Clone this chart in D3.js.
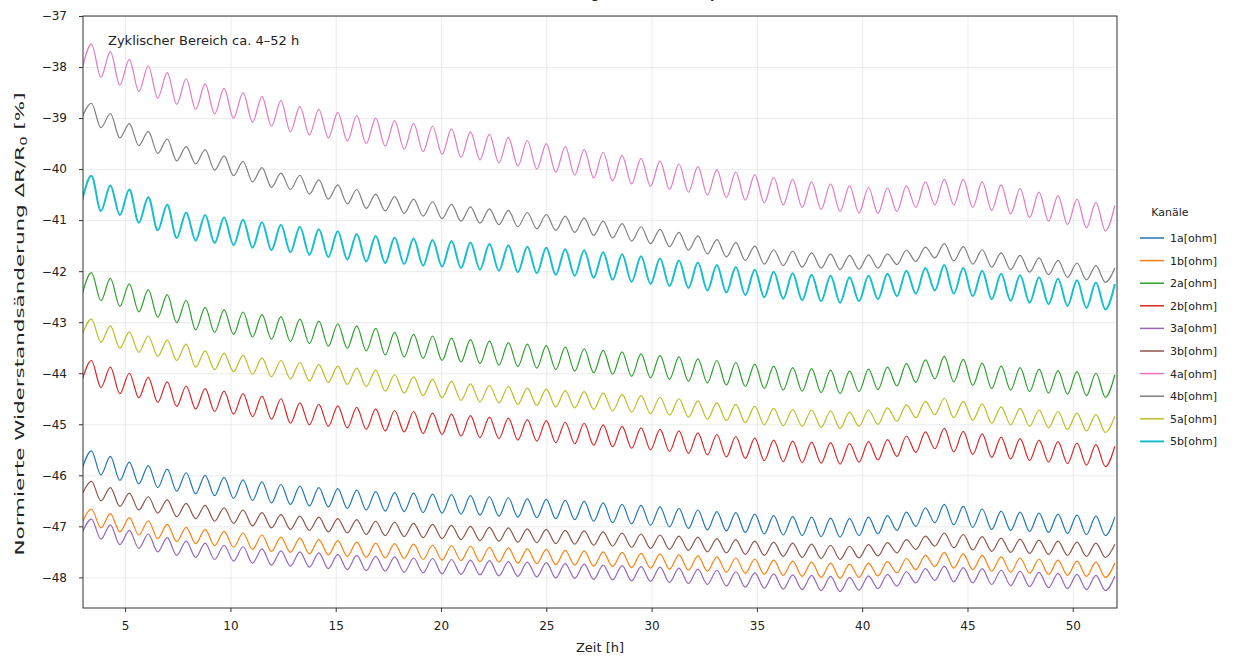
<!DOCTYPE html>
<html>
<head>
<meta charset="utf-8">
<script src="https://cdn.jsdelivr.net/npm/d3@7"></script>
<style>
  body { margin: 0; background: #fff; }
  text { font-family: "DejaVu Sans", sans-serif; fill: #222; }
  .grid line { stroke: #e6e6e6; stroke-width: 0.8; }
  .grid path { display: none; }
</style>
</head>
<body>
<div id="chart"></div>
<script>
// channel names + colours (matplotlib tab10 order)
var channels = ["1a[ohm]", "1b[ohm]", "2a[ohm]", "2b[ohm]", "3a[ohm]", "3b[ohm]", "4a[ohm]", "4b[ohm]", "5a[ohm]", "5b[ohm]"];
var colors = ["#1f77b4", "#ff7f0e", "#2ca02c", "#d62728", "#9467bd", "#8c564b", "#e377c2", "#7f7f7f", "#bcbd22", "#17becf"];

// times of the cycle maxima and minima [h]
var peakTimes = [3.4,4.3,5.2,6.1,7.0,7.9,8.8,9.7,10.6,11.5,12.4,13.3,14.2,15.1,16.0,16.9,17.8,18.7,19.6,20.5,21.4,22.3,23.2,24.1,25.0,25.9,26.8,27.7,28.6,29.5,30.4,31.3,32.2,33.1,34.0,34.9,35.8,36.7,37.6,38.5,39.4,40.3,41.2,42.1,43.0,43.9,44.8,45.7,46.6,47.5,48.4,49.3,50.2,51.1,52.0];
var troughTimes = [2.95,3.85,4.75,5.65,6.55,7.45,8.35,9.25,10.15,11.05,11.95,12.85,13.75,14.65,15.55,16.45,17.35,18.25,19.15,20.05,20.95,21.85,22.75,23.65,24.55,25.45,26.35,27.25,28.15,29.05,29.95,30.85,31.75,32.65,33.55,34.45,35.35,36.25,37.15,38.05,38.95,39.85,40.75,41.65,42.55,43.45,44.35,45.25,46.15,47.05,47.95,48.85,49.75,50.65,51.55];

// cycle mid level per channel [%] (one value per cycle)
var mid1a = [-45.70,-45.81,-45.92,-45.99,-46.06,-46.13,-46.18,-46.22,-46.27,-46.31,-46.36,-46.39,-46.42,-46.44,-46.47,-46.50,-46.52,-46.53,-46.55,-46.56,-46.58,-46.60,-46.62,-46.64,-46.65,-46.67,-46.69,-46.72,-46.75,-46.77,-46.80,-46.83,-46.86,-46.89,-46.91,-46.94,-46.97,-46.99,-47.00,-47.02,-47.03,-47.00,-46.97,-46.90,-46.82,-46.75,-46.79,-46.84,-46.88,-46.90,-46.92,-46.94,-46.96,-46.98,-47.00];
var mid1b = [-46.80,-46.89,-46.97,-47.03,-47.10,-47.16,-47.20,-47.24,-47.27,-47.31,-47.35,-47.37,-47.40,-47.42,-47.45,-47.47,-47.48,-47.49,-47.51,-47.52,-47.53,-47.55,-47.56,-47.58,-47.59,-47.61,-47.62,-47.64,-47.65,-47.67,-47.68,-47.70,-47.72,-47.74,-47.76,-47.78,-47.80,-47.82,-47.84,-47.86,-47.88,-47.86,-47.83,-47.77,-47.71,-47.65,-47.68,-47.71,-47.74,-47.76,-47.78,-47.80,-47.82,-47.84,-47.86];
var mid2a = [-42.25,-42.36,-42.47,-42.58,-42.68,-42.79,-42.93,-42.98,-43.02,-43.07,-43.11,-43.16,-43.20,-43.25,-43.29,-43.34,-43.42,-43.46,-43.49,-43.53,-43.56,-43.59,-43.62,-43.65,-43.68,-43.71,-43.74,-43.77,-43.80,-43.84,-43.87,-43.90,-43.94,-43.97,-44.01,-44.04,-44.08,-44.11,-44.13,-44.16,-44.18,-44.14,-44.10,-44.03,-43.96,-43.89,-43.95,-44.02,-44.08,-44.11,-44.14,-44.17,-44.19,-44.22,-44.25];
var mid2b = [-43.95,-44.08,-44.20,-44.28,-44.37,-44.45,-44.50,-44.55,-44.60,-44.65,-44.70,-44.78,-44.81,-44.84,-44.87,-44.90,-44.93,-44.95,-44.98,-45.00,-45.03,-45.06,-45.08,-45.11,-45.13,-45.16,-45.18,-45.21,-45.24,-45.27,-45.30,-45.33,-45.37,-45.40,-45.44,-45.47,-45.51,-45.53,-45.55,-45.56,-45.58,-45.54,-45.50,-45.43,-45.35,-45.28,-45.34,-45.39,-45.45,-45.48,-45.51,-45.54,-45.57,-45.60,-45.63];
var mid3a = [-47.00,-47.11,-47.22,-47.29,-47.36,-47.43,-47.47,-47.51,-47.54,-47.58,-47.62,-47.64,-47.66,-47.69,-47.71,-47.73,-47.74,-47.76,-47.77,-47.79,-47.80,-47.81,-47.83,-47.84,-47.85,-47.87,-47.88,-47.90,-47.91,-47.93,-47.94,-47.96,-47.98,-48.00,-48.03,-48.05,-48.07,-48.09,-48.10,-48.12,-48.14,-48.11,-48.08,-48.03,-47.97,-47.92,-47.95,-47.97,-48.00,-48.02,-48.04,-48.06,-48.08,-48.10,-48.12];
var mid3b = [-46.25,-46.37,-46.48,-46.55,-46.61,-46.68,-46.72,-46.77,-46.81,-46.86,-46.90,-46.93,-46.95,-46.98,-47.00,-47.03,-47.05,-47.07,-47.09,-47.11,-47.13,-47.15,-47.16,-47.18,-47.19,-47.21,-47.22,-47.24,-47.26,-47.28,-47.30,-47.32,-47.34,-47.37,-47.39,-47.42,-47.44,-47.46,-47.48,-47.50,-47.52,-47.49,-47.45,-47.39,-47.32,-47.26,-47.29,-47.33,-47.36,-47.38,-47.40,-47.42,-47.44,-47.46,-47.48];
var mid4a = [-37.80,-37.95,-38.10,-38.23,-38.36,-38.48,-38.58,-38.67,-38.75,-38.83,-38.91,-39.02,-39.08,-39.14,-39.20,-39.25,-39.30,-39.36,-39.41,-39.46,-39.52,-39.57,-39.63,-39.69,-39.75,-39.81,-39.87,-39.92,-39.98,-40.04,-40.09,-40.15,-40.20,-40.26,-40.31,-40.36,-40.41,-40.45,-40.50,-40.54,-40.58,-40.61,-40.62,-40.58,-40.50,-40.45,-40.45,-40.50,-40.56,-40.63,-40.70,-40.77,-40.84,-40.90,-40.96];
var mid4b = [-38.85,-39.05,-39.25,-39.40,-39.55,-39.70,-39.76,-39.88,-39.99,-40.11,-40.22,-40.26,-40.35,-40.45,-40.54,-40.63,-40.68,-40.73,-40.78,-40.83,-40.88,-40.92,-40.95,-40.99,-41.03,-41.06,-41.10,-41.16,-41.21,-41.27,-41.32,-41.38,-41.45,-41.52,-41.58,-41.65,-41.72,-41.75,-41.78,-41.80,-41.83,-41.82,-41.80,-41.73,-41.67,-41.60,-41.66,-41.72,-41.78,-41.83,-41.88,-41.93,-41.98,-42.03,-42.08];
var mid5a = [-43.10,-43.23,-43.35,-43.43,-43.51,-43.59,-43.72,-43.77,-43.81,-43.86,-43.91,-43.95,-43.99,-44.02,-44.06,-44.10,-44.19,-44.23,-44.28,-44.32,-44.37,-44.40,-44.42,-44.45,-44.47,-44.50,-44.52,-44.55,-44.58,-44.60,-44.63,-44.66,-44.70,-44.74,-44.77,-44.81,-44.85,-44.87,-44.88,-44.90,-44.92,-44.88,-44.84,-44.78,-44.71,-44.65,-44.71,-44.76,-44.82,-44.85,-44.88,-44.91,-44.94,-44.97,-45.00];
var mid5b = [-40.38,-40.57,-40.65,-40.80,-40.95,-41.10,-41.15,-41.20,-41.24,-41.29,-41.34,-41.38,-41.43,-41.47,-41.52,-41.56,-41.59,-41.61,-41.64,-41.66,-41.69,-41.72,-41.74,-41.77,-41.79,-41.82,-41.84,-41.88,-41.92,-41.96,-42.00,-42.04,-42.08,-42.13,-42.17,-42.22,-42.26,-42.29,-42.32,-42.34,-42.37,-42.34,-42.30,-42.24,-42.19,-42.13,-42.19,-42.24,-42.30,-42.33,-42.37,-42.40,-42.43,-42.47,-42.50];

// half swing of the cycle per channel [%]
var swing = [0.18, 0.14, 0.22, 0.20, 0.14, 0.13, 0.25, 0.14, 0.16, 0.25];

var mids = [mid1a, mid1b, mid2a, mid2b, mid3a, mid3b, mid4a, mid4b, mid5a, mid5b];

var yTicks = [-37, -38, -39, -40, -41, -42, -43, -44, -45, -46, -47, -48];
var xTicks = [5, 10, 15, 20, 25, 30, 35, 40, 45, 50];

var svgWidth = 1259;
var svgHeight = 659;
var margin = { top: 16, right: 142, bottom: 51, left: 83 };
var width = svgWidth - margin.left - margin.right;
var height = svgHeight - margin.top - margin.bottom;

var svg = d3.select("#chart").append("svg")
  .attr("width", svgWidth)
  .attr("height", svgHeight);

// title sits almost fully above the visible area, as in the source
svg.append("text")
  .attr("x", margin.left + width / 2)
  .attr("y", -2)
  .attr("text-anchor", "middle")
  .attr("font-size", "14px")
  .text("Normierte Widerstandsänderung aller Kanäle – zyklischer Bereich");

var chartGroup = svg.append("g")
  .attr("transform", `translate(${margin.left}, ${margin.top})`);

var x = d3.scaleLinear().domain([3.0, 52.1]).range([0, width]);
var y = d3.scaleLinear().domain([-48.6, -37]).range([height, 0]);

var fmt = d => String(d).replace("-", "\u2212");

// grid
chartGroup.append("g").attr("class", "grid")
  .attr("transform", `translate(0, ${height})`)
  .call(d3.axisBottom(x).tickValues(xTicks).tickSize(-height).tickFormat(""));
chartGroup.append("g").attr("class", "grid")
  .call(d3.axisLeft(y).tickValues(yTicks).tickSize(-width).tickFormat(""));

chartGroup.append("clipPath").attr("id", "clip")
  .append("rect").attr("width", width).attr("height", height);

// minimum then maximum of each cycle
function points(i) {
  var pts = [];
  mids[i].forEach(function(m, k) {
    pts.push([troughTimes[k], m - swing[i]]);
    pts.push([peakTimes[k], m + swing[i]]);
  });
  return pts;
}

var line = d3.line()
  .x(d => x(d[0]))
  .y(d => y(d[1]))
  .curve(d3.curveMonotoneX);

var linesGroup = chartGroup.append("g").attr("clip-path", "url(#clip)");
channels.forEach(function(name, i) {
  linesGroup.append("path")
    .attr("d", line(points(i)))
    .attr("fill", "none")
    .attr("stroke", colors[i])
    .attr("stroke-width", name === "5b[ohm]" ? 2 : 1.2)
    .attr("stroke-linejoin", "round");
});

// axes
var xAxis = chartGroup.append("g")
  .attr("transform", `translate(0, ${height})`)
  .call(d3.axisBottom(x).tickValues(xTicks).tickSize(4).tickPadding(9).tickFormat(fmt));
var yAxis = chartGroup.append("g")
  .call(d3.axisLeft(y).tickValues(yTicks).tickSize(4).tickPadding(12).tickFormat(fmt));
[xAxis, yAxis].forEach(function(a) {
  a.select(".domain").remove();
  a.selectAll("text").attr("font-size", "12px").attr("font-family", "DejaVu Sans, sans-serif").attr("fill", "#222");
  a.selectAll("line").attr("stroke", "#333");
});

// frame
chartGroup.append("rect")
  .attr("width", width).attr("height", height)
  .attr("fill", "none").attr("stroke", "#333").attr("stroke-width", 1);

// annotation
chartGroup.append("text")
  .attr("x", 25).attr("y", 29)
  .attr("font-size", "13px")
  .text("Zyklischer Bereich ca. 4–52 h");

// axis labels
svg.append("text")
  .attr("x", margin.left + width / 2)
  .attr("y", 652)
  .attr("text-anchor", "middle")
  .attr("font-size", "13px")
  .text("Zeit [h]");

// y label is drawn stretched along its length like in the source
var yl = svg.append("text")
  .attr("transform", `translate(24, ${margin.top + height / 2 + 12}) rotate(-90) scale(1.65, 1)`)
  .attr("text-anchor", "middle")
  .attr("font-size", "13px");
yl.append("tspan").text("Normierte Widerstandsänderung ΔR/R");
yl.append("tspan").attr("font-size", "9px").attr("dy", 3).text("0");
yl.append("tspan").attr("dy", -3).text(" [%]");

// legend
var legend = svg.append("g").attr("transform", "translate(1140, 212)");
legend.append("text")
  .attr("x", 30).attr("y", 4)
  .attr("text-anchor", "middle")
  .attr("font-size", "11px")
  .text("Kanäle");
channels.forEach(function(name, i) {
  var row = legend.append("g").attr("transform", `translate(0, ${26 + i * 22.6})`);
  row.append("line")
    .attr("x1", 0).attr("x2", 24)
    .attr("stroke", colors[i])
    .attr("stroke-width", name === "5b[ohm]" ? 2 : 1.5);
  row.append("text")
    .attr("x", 30).attr("y", 4)
    .attr("font-size", "11px")
    .text(name);
});
</script>
</body>
</html>
